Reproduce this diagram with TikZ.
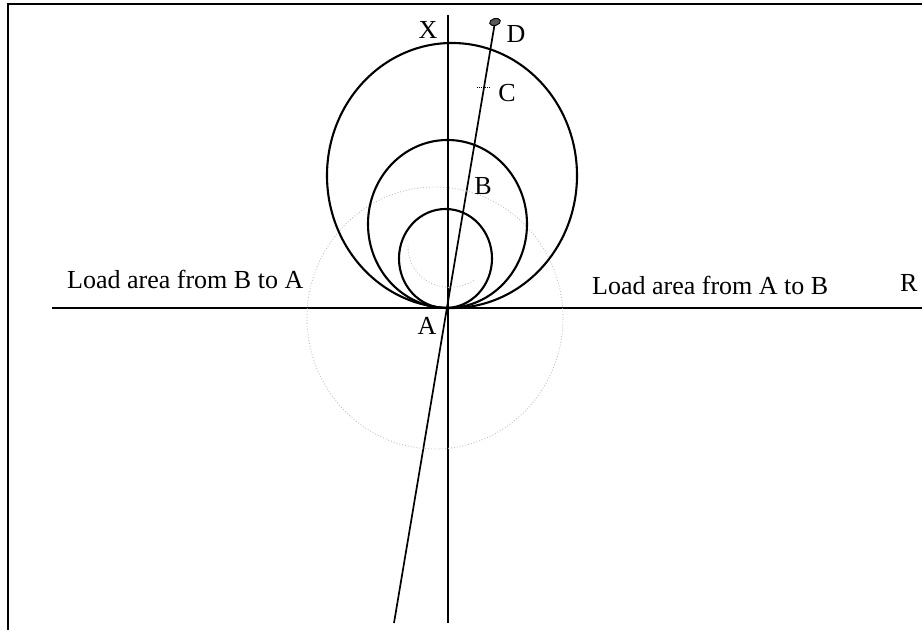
\documentclass[tikz,border=0pt]{standalone}
\usepackage{fontspec}
\setmainfont{Liberation Serif}
\usetikzlibrary{shapes.geometric}
\tikzset{
  rahmen/.style = {line width=1.3pt, black},
  achse/.style  = {line width=1.7pt, black},
  kreis/.style  = {line width=2.1pt, black},
  spur/.style   = {gray!50, dotted, line width=0.9pt},
  buch/.style   = {font=\fontsize{26}{30}\selectfont, inner sep=0pt},
  txt/.style    = {font=\fontsize{26}{30}\selectfont, inner sep=0pt, anchor=base west},
  punkt/.style  = {ellipse, draw, fill=gray!70!black, minimum width=11pt, minimum height=7pt, inner sep=0pt, line width=0.9pt, rotate=15}
}

\begin{document}
\begin{tikzpicture}[x=1pt, y=1pt]

  \useasboundingbox (0,0) rectangle (922,631);

  % rahmen (nur oben und links sichtbar)
  \draw[rahmen] (8,1) -- (8,627) -- (922,627);

  % ---------------- ACHSEN ----------------
  \coordinate (A)  at (448,323);
  \coordinate (Rl) at (52,323);
  \coordinate (Rr) at (922,323);
  \coordinate (Xo) at (448,616);
  \coordinate (Xu) at (448,8);
  \coordinate (E)  at (394,8);
  \node[punkt] (D) at (495,609) {};

  \draw[achse] (Rl) -- (Rr);
  \draw[achse] (Xo) -- (Xu);
  \draw[achse] (D) -- (E);

  % ---------------- SPUREN ----------------
  \draw[spur] (435,313) ellipse [x radius=128, y radius=131];
  \draw[spur] (408,385) arc[start angle=178, end angle=305, x radius=42, y radius=40];

  % ---------------- KREISE ----------------
  \draw[kreis] (445.5,372.5) ellipse [x radius=46.5, y radius=49.5];
  \draw[kreis] (447.5,407)   ellipse [x radius=79.5, y radius=84];
  \draw[kreis] (452,455.5)   ellipse [x radius=125, y radius=132.5];

  % marke bei C
  \draw[black, densely dotted, line width=1pt] (477,543) -- (490,543);

  % ---------------- BESCHRIFTUNG ----------------
  \node[buch] (lx) at (428,601) {X};
  \node[buch] (ld) at (516,597) {D};
  \node[buch] (lc) at (507,538) {C};
  \node[buch] (lb) at (483,445) {B};
  \node[buch] (la) at (427,305) {A};
  \node[buch, anchor=base west] (lr) at (900,339) {R};

  \node[txt] (ba) at (67,342)  {Load area from B to A};
  \node[txt] (ab) at (592,336) {Load area from A to B};

\end{tikzpicture}
\end{document}
